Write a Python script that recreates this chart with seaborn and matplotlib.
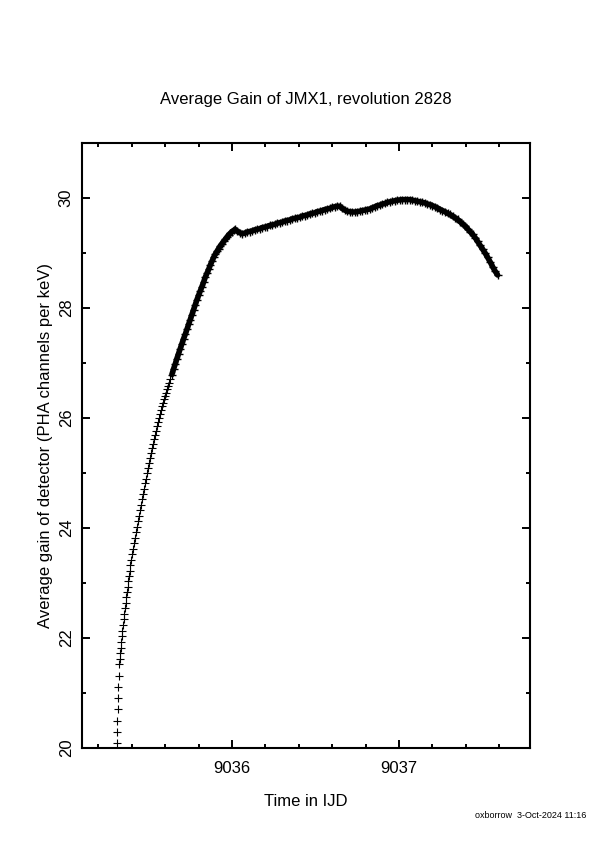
import numpy as np
import pandas as pd
import matplotlib
matplotlib.use("Agg")
import matplotlib.pyplot as plt
import seaborn as sns
from matplotlib.ticker import MultipleLocator

# steep start, separate markers
time_rise = [
    9035.310, 9035.312, 9035.314, 9035.316, 9035.318, 9035.320, 9035.322, 9035.324,
    9035.327, 9035.330, 9035.334, 9035.337, 9035.340, 9035.344, 9035.348, 9035.352,
    9035.356, 9035.360, 9035.364, 9035.368, 9035.372, 9035.376, 9035.380, 9035.384,
    9035.388, 9035.392, 9035.396,
    9035.402, 9035.408, 9035.414, 9035.420, 9035.426, 9035.432, 9035.438, 9035.444,
    9035.450, 9035.456, 9035.462, 9035.468, 9035.474, 9035.480, 9035.486, 9035.492,
    9035.498, 9035.504, 9035.510, 9035.516, 9035.522, 9035.528, 9035.534, 9035.540,
    9035.546, 9035.552, 9035.558, 9035.564, 9035.570, 9035.576, 9035.582, 9035.588,
    9035.594, 9035.600, 9035.606, 9035.612, 9035.618, 9035.624, 9035.630,
]
gain_rise = [
    20.09, 20.29, 20.50, 20.71, 20.91, 21.11, 21.31, 21.52,
    21.62, 21.72, 21.82, 21.93, 22.04, 22.13, 22.24, 22.34,
    22.44, 22.54, 22.64, 22.75, 22.84, 22.93, 23.04, 23.13,
    23.22, 23.33, 23.42,
    23.52, 23.62, 23.72, 23.82, 23.92, 24.02, 24.12, 24.22,
    24.32, 24.42, 24.52, 24.62, 24.71, 24.81, 24.90, 25.00,
    25.09, 25.19, 25.28, 25.36, 25.45, 25.53, 25.61, 25.69,
    25.77, 25.86, 25.93, 26.00, 26.07, 26.14, 26.21, 26.28,
    26.34, 26.40, 26.46, 26.52, 26.58, 26.64, 26.70,
]

# upper part, markers merge into a thick band
time_band = [
    9035.640, 9035.650, 9035.660, 9035.670, 9035.680, 9035.690, 9035.700, 9035.710,
    9035.720, 9035.730, 9035.740, 9035.750, 9035.760, 9035.770, 9035.780, 9035.790,
    9035.800, 9035.810, 9035.820, 9035.830, 9035.840, 9035.850, 9035.860, 9035.870,
    9035.880, 9035.890, 9035.900, 9035.910, 9035.920, 9035.930, 9035.940, 9035.950,
    9035.960, 9035.970, 9035.980, 9035.990, 9036.000, 9036.010, 9036.018,
    9036.030, 9036.045, 9036.060, 9036.075, 9036.090, 9036.105, 9036.120, 9036.135,
    9036.150, 9036.165, 9036.180, 9036.195, 9036.210, 9036.225, 9036.240, 9036.255,
    9036.270, 9036.285, 9036.300, 9036.315, 9036.330, 9036.345, 9036.360, 9036.375,
    9036.390, 9036.405, 9036.420, 9036.435, 9036.450, 9036.465, 9036.480, 9036.495,
    9036.510, 9036.525, 9036.540, 9036.555, 9036.570, 9036.585, 9036.600, 9036.615,
    9036.630, 9036.645, 9036.660, 9036.675, 9036.690, 9036.705, 9036.720, 9036.735,
    9036.750, 9036.765, 9036.780, 9036.795, 9036.810, 9036.825, 9036.840, 9036.855,
    9036.870, 9036.885, 9036.900, 9036.915, 9036.930, 9036.945, 9036.960, 9036.975,
    9036.990, 9037.005, 9037.020, 9037.035, 9037.050, 9037.065, 9037.080, 9037.095,
    9037.110, 9037.125, 9037.140, 9037.155, 9037.170, 9037.185, 9037.200, 9037.215,
    9037.230, 9037.245, 9037.260, 9037.275, 9037.290, 9037.305, 9037.320, 9037.335,
    9037.350, 9037.365, 9037.380, 9037.395, 9037.410, 9037.425, 9037.440, 9037.455,
    9037.470, 9037.485, 9037.500, 9037.515, 9037.530, 9037.545, 9037.560, 9037.575,
    9037.590,
]
gain_band = [
    26.79, 26.89, 26.98, 27.08, 27.17, 27.26, 27.35, 27.44,
    27.52, 27.61, 27.70, 27.79, 27.88, 27.97, 28.06, 28.15,
    28.23, 28.31, 28.39, 28.47, 28.56, 28.63, 28.70, 28.78,
    28.85, 28.92, 28.98, 29.03, 29.08, 29.13, 29.17, 29.21,
    29.25, 29.29, 29.33, 29.36, 29.39, 29.41, 29.43,
    29.40, 29.37, 29.35, 29.36, 29.38, 29.39, 29.40, 29.42,
    29.43, 29.44, 29.46, 29.47, 29.48, 29.50, 29.51, 29.52,
    29.54, 29.55, 29.56, 29.58, 29.59, 29.60, 29.62, 29.63,
    29.64, 29.65, 29.67, 29.68, 29.69, 29.71, 29.72, 29.73,
    29.75, 29.76, 29.77, 29.79, 29.80, 29.81, 29.83, 29.84,
    29.85, 29.85, 29.81, 29.78, 29.76, 29.75, 29.745, 29.745,
    29.75, 29.76, 29.77, 29.78, 29.79, 29.80, 29.82, 29.84,
    29.86, 29.87, 29.89, 29.90, 29.92, 29.93, 29.94, 29.95,
    29.96, 29.965, 29.97, 29.97, 29.97, 29.97, 29.96, 29.95,
    29.94, 29.93, 29.92, 29.91, 29.89, 29.88, 29.86, 29.84,
    29.82, 29.79, 29.77, 29.75, 29.72, 29.70, 29.67, 29.64,
    29.61, 29.57, 29.53, 29.49, 29.44, 29.39, 29.34, 29.28,
    29.21, 29.14, 29.07, 29.00, 28.92, 28.84, 28.75, 28.67,
    28.60,
]

x_ticks = [9036, 9037]
y_ticks = [20, 22, 24, 26, 28, 30]

sns.set_style("ticks")
plt.rcParams["font.family"] = ["Liberation Sans", "DejaVu Sans"]
plt.rcParams["text.color"] = "black"
plt.rcParams["axes.labelcolor"] = "black"

fig = plt.figure(figsize=(5.95, 8.42), dpi=100)
ax = fig.add_axes([0.1378, 0.1116, 0.7530, 0.7186])

df_rise = pd.DataFrame({"t": time_rise, "gain": gain_rise})
df_band = pd.DataFrame({"t": time_band, "gain": gain_band})

# dense points overlap into a solid band
sns.lineplot(data=df_band, x="t", y="gain", color="black", linewidth=4.0,
             sort=False, estimator=None, ax=ax)
sns.scatterplot(data=df_rise, x="t", y="gain", marker="+", s=30,
                color="black", linewidth=0.8, ax=ax)
sns.scatterplot(data=df_band, x="t", y="gain", marker="+", s=26,
                color="black", linewidth=1.0, ax=ax)

ax.set_xlim(9035.102, 9037.784)
ax.set_ylim(20, 31)
ax.set_xticks(x_ticks)
ax.set_yticks(y_ticks)
ax.xaxis.set_minor_locator(MultipleLocator(0.2))
ax.yaxis.set_minor_locator(MultipleLocator(1))
ax.tick_params(which="both", direction="in", top=True, right=True,
               width=1.4, colors="black", labelsize=12)
ax.tick_params(which="major", length=6, pad=9)
ax.tick_params(which="minor", length=3.2)
ax.tick_params(axis="y", which="major", pad=6)
for lab in ax.get_yticklabels():
    lab.set_rotation(90)
    lab.set_va("center")

for sp in ax.spines.values():
    sp.set_linewidth(1.5)
    sp.set_color("black")

ax.set_xlabel("Time in IJD", fontsize=12, labelpad=13)
ax.set_ylabel("Average gain of detector (PHA channels per keV)", fontsize=12, labelpad=4)
ax.set_title("Average Gain of JMX1, revolution 2828", fontsize=12, pad=28)

fig.text(0.985, 0.032, "oxborrow  3-Oct-2024 11:16", fontsize=6.5, ha="right", va="center")

fig.savefig("out.png", dpi=100)
